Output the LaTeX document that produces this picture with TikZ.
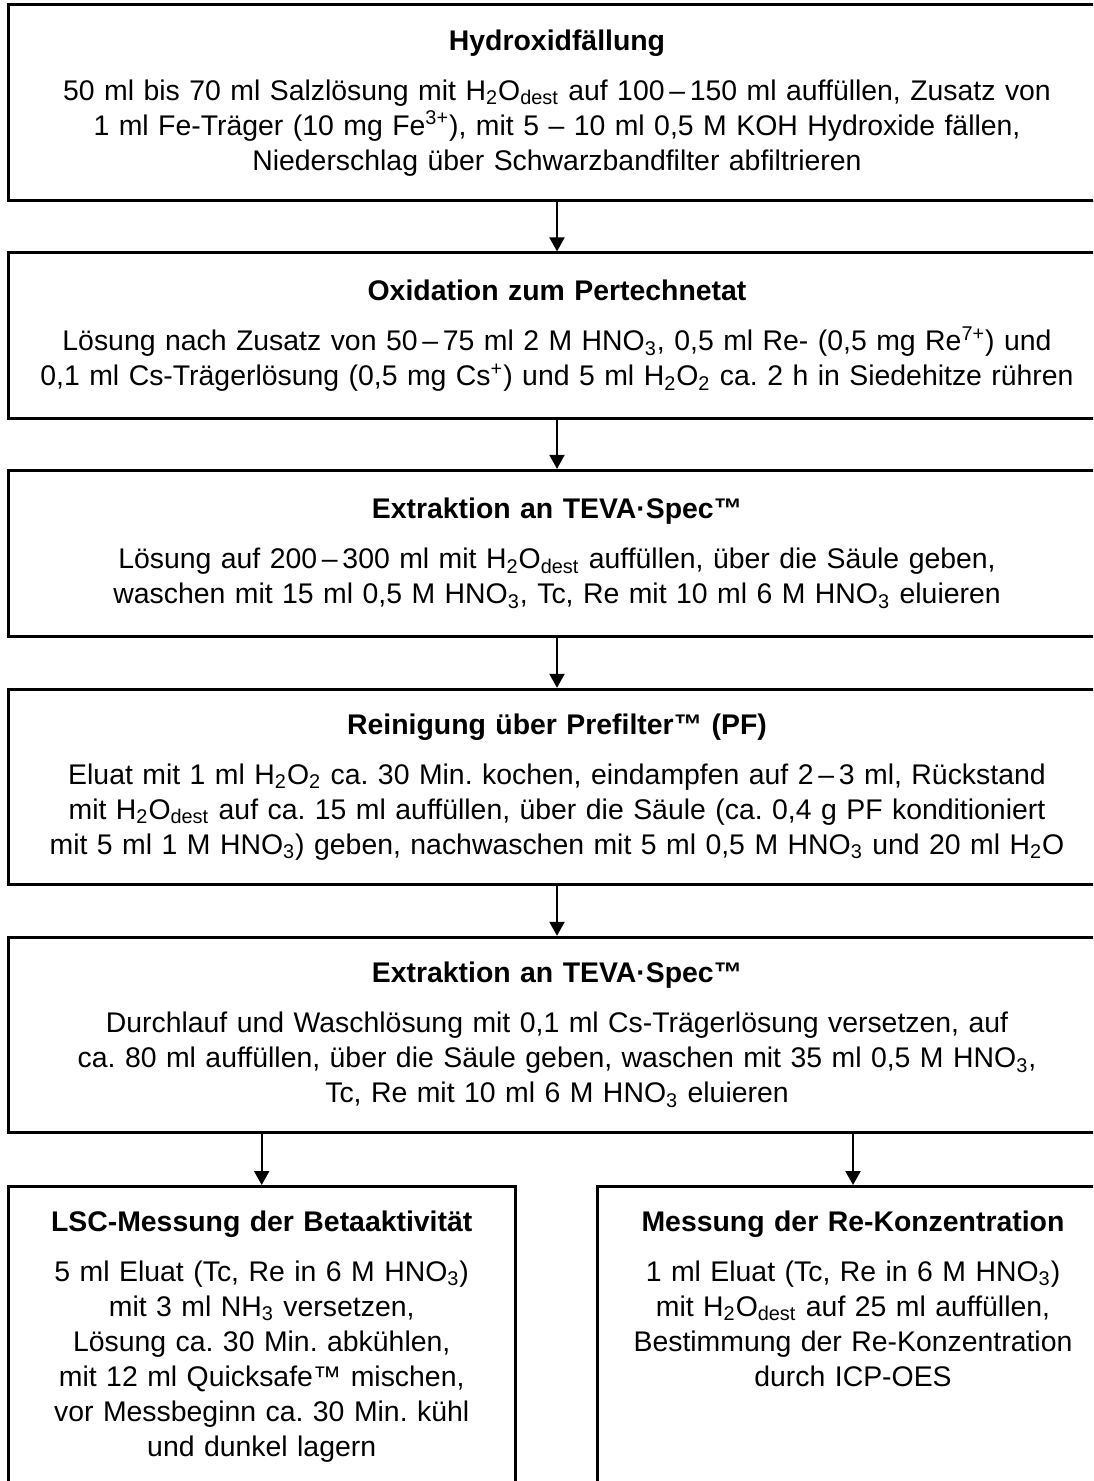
\documentclass[tikz,border=0pt]{standalone}
\usepackage{fontspec}
\setmainfont{Liberation Sans}
\usetikzlibrary{positioning,arrows.meta}
\frenchspacing
\newcommand{\boxtitle}[1]{\textbf{#1}\\[7.5pt]}
\newcommand{\Hdest}{H\textsubscript{2}O\textsubscript{dest}}
\newcommand{\HNO}{HNO\textsubscript{3}}
\tikzset{
  stepbox/.style={draw,line width=1.5pt,minimum width=549pt,text width=547pt,align=center,
    inner xsep=0pt,inner ysep=0pt,font=\fontsize{14.2pt}{17.5pt}\selectfont},
  endbox/.style={stepbox,anchor=north,inner ysep=12.2pt,text depth=300pt},
  flow/.style={-{Triangle[width=7.5pt,length=7pt]},line width=1pt}
}

\begin{document}
\begin{tikzpicture}[x=0.5pt,y=-0.5pt]
\useasboundingbox (0,0) rectangle (1093,1481);
\clip (0,0) rectangle (1093,1481);
% separation steps
\node[stepbox,minimum height=98pt] (hyd) at (557,102.7) {\boxtitle{Hydroxidfällung}50 ml bis 70 ml Salzlösung mit \Hdest{} auf 100\,–\,150 ml auffüllen, Zusatz von\\1 ml Fe-Träger (10 mg Fe\textsuperscript{3+}), mit 5 – 10 ml 0,5 M KOH Hydroxide fällen,\\Niederschlag über Schwarzbandfilter abfiltrieren};
\node[stepbox,minimum height=83pt] (oxi) at (557,335.9) {\boxtitle{Oxidation zum Pertechnetat}Lösung nach Zusatz von 50\,–\,75 ml 2 M \HNO, 0,5 ml Re- (0,5 mg Re\textsuperscript{7+}) und\\0,1 ml Cs-Trägerlösung (0,5 mg Cs\textsuperscript{+}) und 5 ml H\textsubscript{2}O\textsubscript{2} ca. 2 h in Siedehitze rühren};
\node[stepbox,minimum height=83pt] (teva1) at (557,553.4) {\boxtitle{Extraktion an TEVA·Spec™}Lösung auf 200\,–\,300 ml mit \Hdest{} auffüllen, über die Säule geben,\\waschen mit 15 ml 0,5 M \HNO, Tc, Re mit 10 ml 6 M \HNO{} eluieren};
\node[stepbox,minimum height=97.5pt] (prefilter) at (557,786.8) {\boxtitle{Reinigung über Prefilter™ (PF)}Eluat mit 1 ml H\textsubscript{2}O\textsubscript{2} ca. 30 Min. kochen, eindampfen auf 2\,–\,3 ml, Rückstand\\mit \Hdest{} auf ca. 15 ml auffüllen, über die Säule (ca. 0,4 g PF konditioniert\\mit 5 ml 1 M \HNO) geben, nachwaschen mit 5 ml 0,5 M \HNO{} und 20 ml H\textsubscript{2}O};
\node[stepbox,minimum height=97.5pt] (teva2) at (557,1034.8) {\boxtitle{Extraktion an TEVA·Spec™}Durchlauf und Waschlösung mit 0,1 ml Cs-Trägerlösung versetzen, auf\\ca. 80 ml auffüllen, über die Säule geben, waschen mit 35 ml 0,5 M \HNO,\\Tc, Re mit 10 ml 6 M \HNO{} eluieren};
% measurements
\node[endbox,minimum width=253.7pt,text width=251pt] (lsc) at (261.7,1185) {\boxtitle{LSC-Messung der Betaaktivität}5 ml Eluat (Tc, Re in 6 M \HNO)\\mit 3 ml NH\textsubscript{3} versetzen,\\Lösung ca. 30 Min. abkühlen,\\mit 12 ml Quicksafe™ mischen,\\vor Messbeginn ca. 30 Min. kühl\\und dunkel lagern};
\node[endbox,minimum width=256pt,text width=253pt] (icp) at (853,1185) {\boxtitle{Messung der Re-Konzentration}1 ml Eluat (Tc, Re in 6 M \HNO)\\mit \Hdest{} auf 25 ml auffüllen,\\Bestimmung der Re-Konzentration\\durch ICP-OES};
\draw[flow] (hyd) -- (oxi);
\draw[flow] (oxi) -- (teva1);
\draw[flow] (teva1) -- (prefilter);
\draw[flow] (prefilter) -- (teva2);
\draw[flow] (teva2.south -| lsc.north) -- (lsc.north);
\draw[flow] (teva2.south -| icp.north) -- (icp.north);
\end{tikzpicture}
\end{document}
